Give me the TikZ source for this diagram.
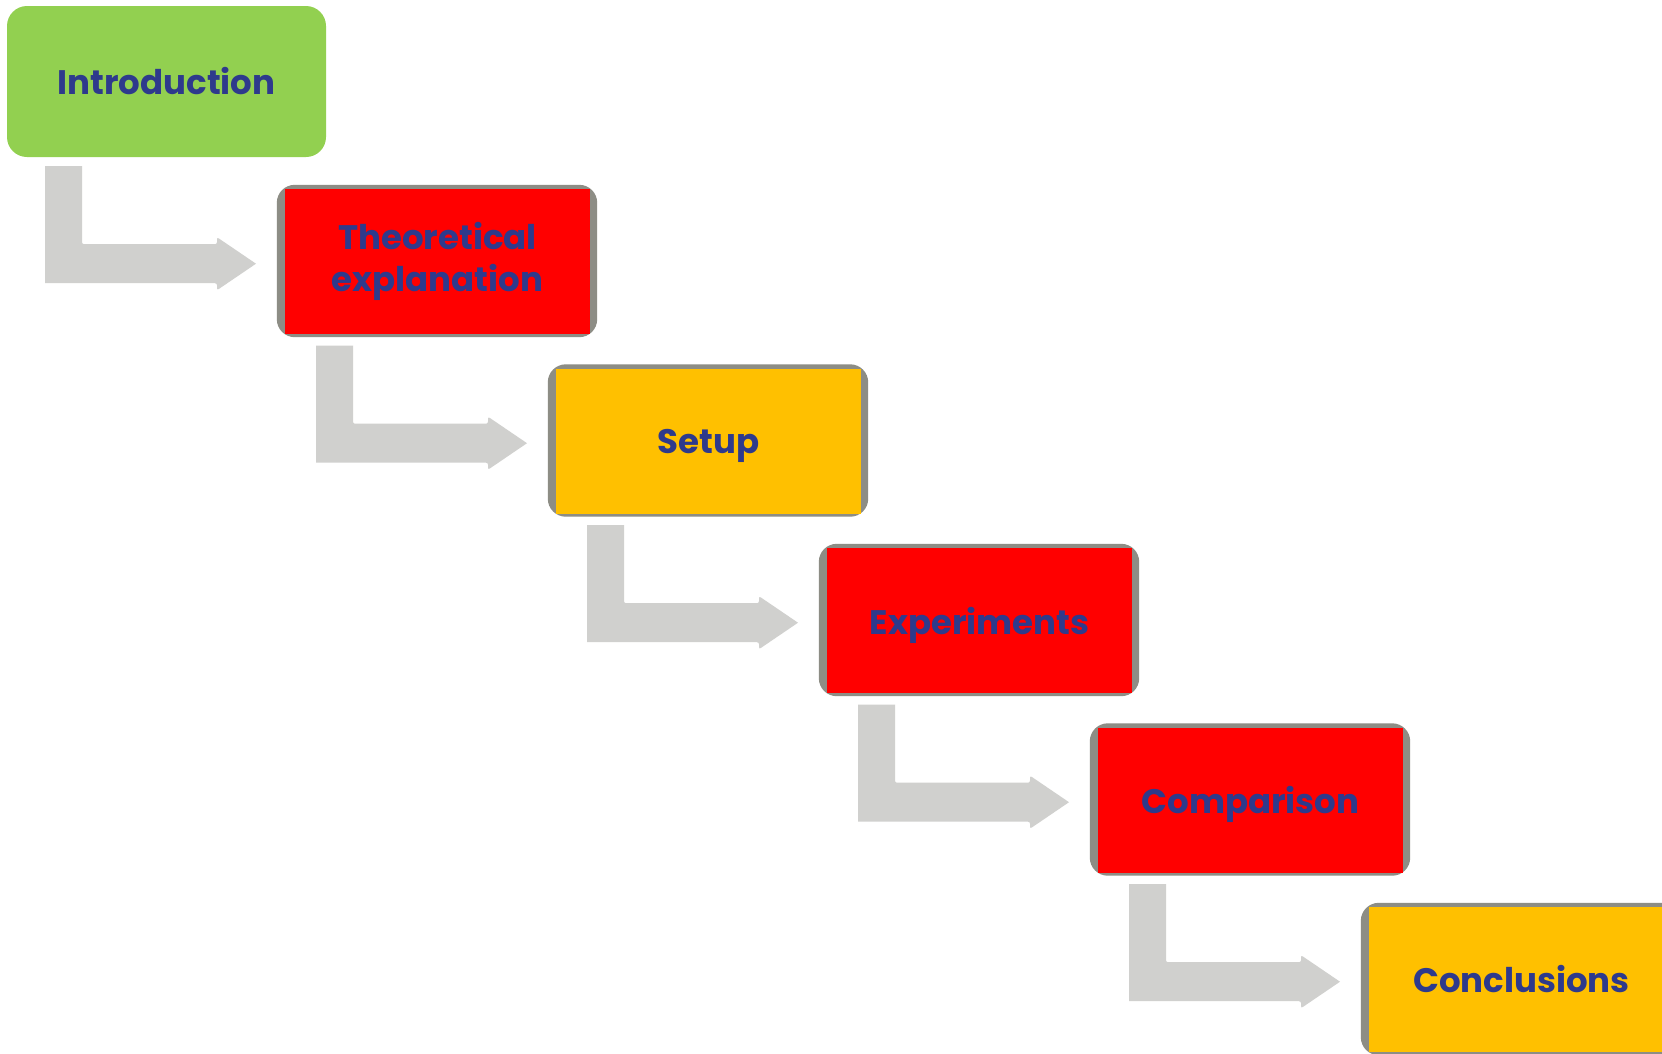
\documentclass[tikz,border=0pt]{standalone}
\usepackage{fontspec}
\setmainfont{Poppins}
\usetikzlibrary{calc,backgrounds}
\definecolor{txt}{RGB}{46,58,140}
\definecolor{grn}{RGB}{146,208,80}
\definecolor{rd}{RGB}{255,0,0}
\definecolor{org}{RGB}{255,192,0}
\definecolor{frm}{RGB}{141,141,133}
\definecolor{arw}{RGB}{208,208,206}
\tikzset{
  lab/.style={font=\fontsize{34}{42}\selectfont\bfseries, text=txt, align=center, inner sep=0pt},
  stagebox/.style={lab, minimum width=305pt, minimum height=145pt},
  flat/.style={text depth=0pt},
  bent/.pic={\fill[arw] (0,0) -- (37,0) [rounded corners=2pt] -- (37,78) -- (172,78) -- (172,71) [sharp corners] -- (211,97.5) [rounded corners=2pt] -- (172,124) -- (172,117) [sharp corners] -- (0,117) -- cycle;}
}
\begin{document}
\begin{tikzpicture}[x=1pt,y=-1pt]
\useasboundingbox (0,0) rectangle (1662,1053);
\clip (0,0) rectangle (1662,1053);
\node[lab, fill=grn, rounded corners=20pt, minimum width=319pt, minimum height=151pt] (intro) at (166.5,81.5) {Introduction};
\node[stagebox, fill=rd]  (theo)  at (437.5,261.5) {Theoretical\\explanation};
\node[stagebox, flat, fill=org] (setup) at (708.5,441) {Setup};
\node[stagebox, flat, fill=rd]  (exper) at (979.5,620.5) {Experiments};
\node[stagebox, flat, fill=rd]  (compa) at (1250.5,800) {Comparison};
\node[stagebox, fill=org] (concl) at (1521.5,979.5) {Conclusions};
\begin{scope}[on background layer]
\fill[white] (0,0) rectangle (1662,1053);
\foreach \n in {theo,setup,exper,compa,concl}{
  \fill[frm, rounded corners=18pt] ($(\n.north west)+(-8,-4)$) rectangle ($(\n.south east)+(7,3)$);
}
\end{scope}
\path ($(intro.south)+(-121.5,9)$) pic {bent};
\path ($(theo.south)+(-121.5,11.5)$) pic {bent};
\path ($(setup.south)+(-121.5,11.5)$) pic {bent};
\path ($(exper.south)+(-121.5,11.5)$) pic {bent};
\path ($(compa.south)+(-121.5,11.5)$) pic {bent};
\end{tikzpicture}
\end{document}
